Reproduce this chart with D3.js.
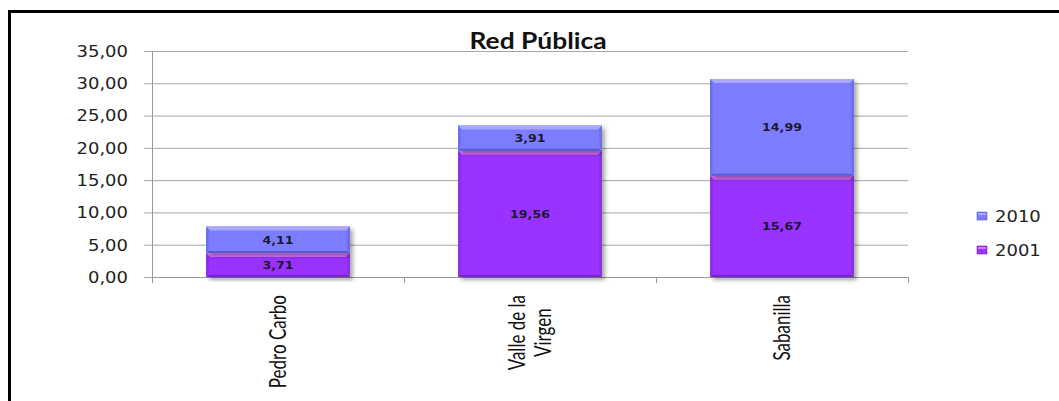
<!DOCTYPE html>
<html>
<head>
<meta charset="utf-8">
<script src="https://cdn.jsdelivr.net/npm/d3@7"></script>
<style>
  html, body { margin: 0; padding: 0; background: #fff; }
  svg { display: block; }
</style>
</head>
<body>
<div id="chart"></div>
<script>
// Red Pública – stacked columns 2001 / 2010
const categories = ['Pedro Carbo', 'Valle de la Virgen', 'Sabanilla'];
const categoryLines = [['Pedro Carbo'], ['Valle de la', 'Virgen'], ['Sabanilla']];
const seriesNames = ['2001', '2010'];
const values2001 = [3.71, 19.56, 15.67];
const values2010 = [4.11, 3.91, 14.99];
const yTicks = [0, 5, 10, 15, 20, 25, 30, 35];
const chartTitle = 'Red Pública';

const W = 1059, H = 401;
const plot = { left: 152, right: 908, top: 51, bottom: 277 };
const stretch = 'scale(1.2,1)';   // the original picture is stretched sideways

const palette = {
  '2001': { main: '#9933ff', top: '#dd77ff', side: '#8a2ee6', bottom: '#7526c4' },
  '2010': { main: '#7b7bff', top: '#a8a8ff', side: '#6c6ce8', bottom: '#5a5ac8' }
};

const esLocale = d3.formatLocale({ decimal: ',', thousands: '.', grouping: [3], currency: ['', ''] });
const fmt = esLocale.format('.2f');

const rows = categories.map((c, i) => ({ cat: c, '2001': values2001[i], '2010': values2010[i] }));
const stacked = d3.stack().keys(seriesNames)(rows);

const svg = d3.select('#chart').append('svg')
  .attr('width', W).attr('height', H);

const defs = svg.append('defs');
defs.append('filter').attr('id', 'shadow')
  .attr('x', '-10%').attr('y', '-10%').attr('width', '130%').attr('height', '130%')
  .append('feDropShadow')
  .attr('dx', 3).attr('dy', 3).attr('stdDeviation', 2)
  .attr('flood-color', '#000').attr('flood-opacity', 0.35);

const x = d3.scaleBand().domain(categories).range([plot.left, plot.right]).paddingInner(0).paddingOuter(0);
const y = d3.scaleLinear().domain([0, 35]).range([plot.bottom, plot.top]);
const barW = x.bandwidth() * 0.57;

// ✅ Gridlines
svg.append('g')
  .selectAll('line')
  .data(yTicks)
  .join('line')
  .attr('x1', plot.left - 8).attr('x2', plot.right)
  .attr('y1', d => y(d) + 0.5).attr('y2', d => y(d) + 0.5)
  .attr('stroke', '#a6a6a6').attr('stroke-width', 1);

// ✅ Y axis line + labels
svg.append('line')
  .attr('x1', plot.left + 0.5).attr('x2', plot.left + 0.5)
  .attr('y1', plot.top).attr('y2', plot.bottom)
  .attr('stroke', '#9a9a9a');

svg.append('g')
  .selectAll('text')
  .data(yTicks)
  .join('text')
  .attr('transform', d => `translate(128,${y(d) + 0.5}) ${stretch}`)
  .attr('dy', '0.36em')
  .attr('text-anchor', 'end')
  .attr('font-family', 'DejaVu Sans, Verdana, sans-serif')
  .attr('font-size', 15)
  .attr('fill', '#222')
  .text(d => fmt(d));

// ✅ X axis line + boundary ticks
svg.append('line')
  .attr('x1', plot.left).attr('x2', plot.right)
  .attr('y1', plot.bottom + 0.5).attr('y2', plot.bottom + 0.5)
  .attr('stroke', '#9a9a9a');

const bounds = categories.map(c => x(c)).concat([plot.right]);
svg.append('g')
  .selectAll('line')
  .data(bounds)
  .join('line')
  .attr('x1', d => d + 0.5).attr('x2', d => d + 0.5)
  .attr('y1', plot.bottom).attr('y2', plot.bottom + 6)
  .attr('stroke', '#9a9a9a');

// ✅ Bars with bevel
const bevel = 4;
const barLayer = svg.append('g');

stacked.forEach(layer => {
  const col = palette[layer.key];
  layer.forEach((seg, i) => {
    const cx = x(categories[i]) + x.bandwidth() / 2;
    const x0 = cx - barW / 2, x1 = cx + barW / 2;
    const y0 = y(seg[1]), y1 = y(seg[0]);
    const g = barLayer.append('g').attr('filter', 'url(#shadow)');
    g.append('rect')
      .attr('x', x0).attr('y', y0)
      .attr('width', x1 - x0).attr('height', y1 - y0)
      .attr('fill', col.main);
    const poly = pts => pts.map(p => p.join(',')).join(' ');
    const b = Math.min(bevel, (y1 - y0) / 2);
    g.append('polygon').attr('fill', col.top)
      .attr('points', poly([[x0, y0], [x1, y0], [x1 - b, y0 + b], [x0 + b, y0 + b]]));
    g.append('polygon').attr('fill', col.side)
      .attr('points', poly([[x0, y0], [x0 + b * 0.6, y0 + b], [x0 + b * 0.6, y1 - b], [x0, y1]]));
    g.append('polygon').attr('fill', col.side)
      .attr('points', poly([[x1, y0], [x1 - b * 0.6, y0 + b], [x1 - b * 0.6, y1 - b], [x1, y1]]));
    g.append('polygon').attr('fill', col.bottom)
      .attr('points', poly([[x0, y1], [x1, y1], [x1 - b * 0.6, y1 - b * 0.5], [x0 + b * 0.6, y1 - b * 0.5]]));
  });
});

// ✅ Data labels
stacked.forEach(layer => {
  svg.append('g')
    .selectAll('text')
    .data(layer)
    .join('text')
    .attr('transform', (d, i) => `translate(${x(categories[i]) + x.bandwidth() / 2},${(y(d[0]) + y(d[1])) / 2}) ${stretch}`)
    .attr('dy', '0.36em')
    .attr('text-anchor', 'middle')
    .attr('font-family', 'DejaVu Sans, Verdana, sans-serif')
    .attr('font-weight', 'bold')
    .attr('font-size', 10.5)
    .attr('fill', '#1a1a2e')
    .text(d => fmt(d[1] - d[0]));
});

// ✅ Category labels (rotated, block right-aligned at the axis, lines centred)
const catG = svg.append('g')
  .selectAll('g')
  .data(categoryLines)
  .join('g')
  .attr('transform', (d, i) => `translate(${x(categories[i]) + x.bandwidth() / 2},295) scale(1.3,1) rotate(-90)`);

catG.each(function (lines) {
  const n = lines.length;
  const texts = d3.select(this).selectAll('text')
    .data(lines)
    .join('text')
    .attr('y', (d, j) => 6 + (j - (n - 1) / 2) * 20)
    .attr('font-family', 'Lato, sans-serif')
    .attr('font-size', 17)
    .attr('fill', '#111')
    .text(d => d);
  let maxLen = 0;
  texts.each(function () { maxLen = Math.max(maxLen, this.getComputedTextLength()); });
  texts.attr('text-anchor', 'middle').attr('x', -maxLen / 2);
});

// ✅ Title
svg.append('text')
  .attr('transform', `translate(538,49) ${stretch}`)
  .attr('text-anchor', 'middle')
  .attr('font-family', 'Lato, sans-serif')
  .attr('font-weight', 'bold')
  .attr('font-size', 22)
  .attr('fill', '#111')
  .text(chartTitle);

// ✅ Legend (2010 on top)
const legendItems = seriesNames.slice().reverse();
const legend = svg.append('g')
  .selectAll('g')
  .data(legendItems)
  .join('g')
  .attr('transform', (d, i) => `translate(977,${212 + i * 34})`);

legend.append('rect')
  .attr('width', 10).attr('height', 8)
  .attr('fill', d => palette[d].main)
  .attr('stroke', d => palette[d].bottom).attr('stroke-width', 0.6);
legend.append('rect')
  .attr('x', 1).attr('y', 1).attr('width', 8).attr('height', 2)
  .attr('fill', d => palette[d].top);

legend.append('text')
  .attr('transform', `translate(18,10) ${stretch}`)
  .attr('font-family', 'DejaVu Sans, Verdana, sans-serif')
  .attr('font-size', 15)
  .attr('fill', '#222')
  .text(d => d);

// ✅ Outer frame (left + top edges only visible)
svg.append('path')
  .attr('d', `M9.5,${H} L9.5,11.5 L${W},11.5`)
  .attr('fill', 'none')
  .attr('stroke', '#000')
  .attr('stroke-width', 3);
</script>
</body>
</html>
